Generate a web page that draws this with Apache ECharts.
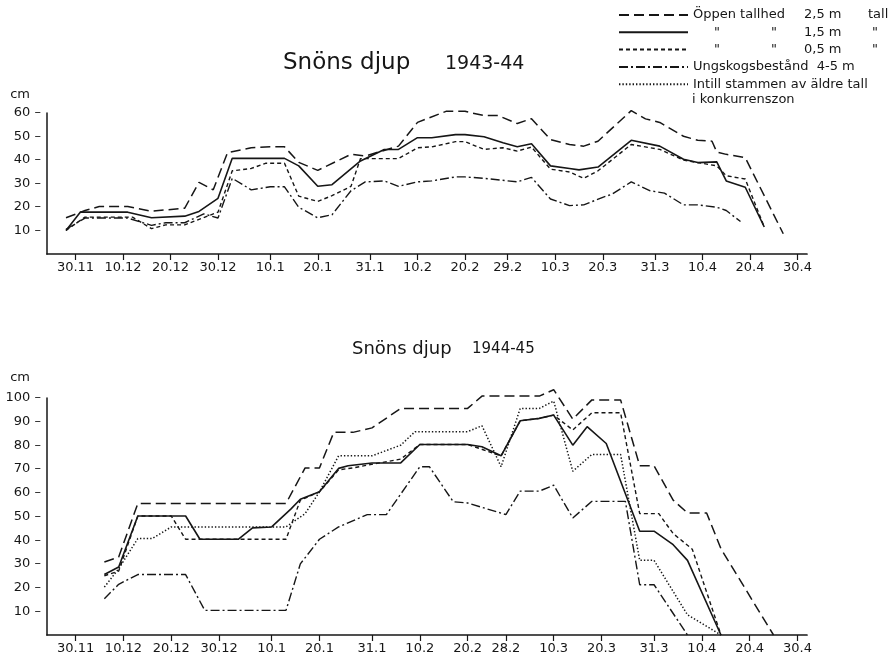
<!DOCTYPE html>
<html><head><meta charset="utf-8">
<script src="https://cdn.jsdelivr.net/npm/echarts@6/dist/echarts.min.js"></script>
<style>html,body{margin:0;padding:0;background:#fff}#c{width:892px;height:662px}</style>
</head><body><div id="c"></div>
<script>
// ---- axis definitions (days counted from 30.11) ----
const topTickDays = [0,10,20,30,41,51,62,72,82,91,101,111,122,132,142,152];
const topTickLabels = ['30.11','10.12','20.12','30.12','10.1','20.1','31.1','10.2','20.2','29.2','10.3','20.3','31.3','10.4','20.4','30.4'];
const botTickDays = [0,10,20,30,41,51,62,72,82,90,100,110,121,131,141,151];
const botTickLabels = ['30.11','10.12','20.12','30.12','10.1','20.1','31.1','10.2','20.2','28.2','10.3','20.3','31.3','10.4','20.4','30.4'];
const topDayRange = [-6, 154];
const botDayRange = [-6, 153];
const yTicksTop = [0, 60, 10];
const yTicksBot = [0, 100, 10];

const seriesNames = ['Öppen tallhed 2,5 m tall','Öppen tallhed 1,5 m tall','Öppen tallhed 0,5 m tall','Ungskogsbestånd 4-5 m','Intill stammen av äldre tall i konkurrenszon'];

// ---- 1943-44 ----
const top25Days = [-2,2,5,11,16,23,26,29,32,37,41,44,47,51,58,61,68,72,78,82,86,89,93,96,100,104,107,110,117,120,123,128,131,134,135,137,141,149];
const top25Vals = [15.4,18.5,20.2,20.2,18.2,19.5,30.5,27.3,43.1,45.2,45.6,45.6,39,35.6,42.4,41.7,45.9,56,60.7,60.7,58.9,58.9,55.5,57.6,48.7,46.6,45.9,48,61,57.5,56,50.1,48.4,48,43.4,42.4,41,8.6];
const top15Days = [-2,1,11,16,23,26,30,33,44,47,51,54,60,65,68,72,75,80,82,86,90,93,96,100,104,106,110,117,123,128,131,135,137,141,145];
const top15Vals = [10,17.8,17.8,15.4,16.1,18.1,23.7,40.7,40.7,37.5,28.8,29.5,39.6,44.5,44.5,49.5,49.5,50.8,50.8,49.9,47.3,45.6,46.9,37.5,36.4,35.8,37,48.4,45.9,40.3,38.9,39.2,31.1,28.4,11.5];
const top05Days = [-2,2,12,16,19,23,30,33,37,40,44,47,51,54,58,60,68,72,75,80,82,86,90,93,96,100,104,107,110,117,123,128,131,135,137,141,145];
const top05Vals = [10,15.7,15.7,10.8,12.4,12.4,17.8,35.4,36.4,38.6,38.6,24.6,22.4,24.8,28.8,40.6,40.6,45.2,45.6,47.8,47.8,44.5,45.2,43.8,45.5,36.1,34.9,32.2,35.4,46.6,44.5,40,38.9,37.5,33.3,31.9,11.5];
const topUngDays = [-2,2,11,16,19,23,27,30,33,37,41,44,47,51,54,58,61,65,68,72,75,80,82,86,93,96,100,104,107,111,113,117,121,124,128,131,135,137,140];
const topUngVals = [10.5,15.3,15.3,12.2,13.3,13.3,17.1,15.3,32.2,27.3,28.6,28.6,19.9,15.4,16.7,26.9,30.7,31.1,28.8,30.7,31.1,32.8,32.8,32.2,30.7,32.6,23.4,20.6,20.9,24.1,25.5,30.7,26.9,25.9,20.9,20.9,19.9,18.5,13.8];

// ---- 1944-45 ----
const bot25Days = [6,9,13,44,48,51,54,58,62,68,82,85,97,100,104,108,114,118,121,125,128,132,135,142,146];
const bot25Vals = [30.8,32.9,55.5,55.5,70.5,70.5,85.5,85.5,87.4,95.6,95.6,100.8,100.8,103.5,91.1,99.2,99.2,71.4,71.4,56.9,51.5,51.5,36.4,13.2,0];
const bot15Days = [6,9,13,23,26,34,37,41,45,47,51,55,57,62,68,72,82,85,89,93,97,100,104,107,111,118,121,125,128,135];
const bot15Vals = [25.5,28.7,50.2,50.2,40.4,40.4,45.2,45.6,53.1,57.3,60.4,70.3,71.4,72.6,72.6,80.4,80.4,79.4,75.6,90.4,91.4,92.8,80.1,87.9,80.8,43.8,43.8,38.1,31.5,0];
const bot05Days = [6,9,13,20,23,44,47,51,55,58,63,68,72,82,89,93,97,100,104,108,114,118,122,125,129,135];
const bot05Vals = [25,27,50.2,50.2,40.4,40.4,56.9,60.4,69.7,70.5,72.4,74.2,80.4,80.4,75.6,90.4,91.4,92.8,86.5,93.8,93.8,51.2,51.2,42.8,36.2,0];
const botUngDays = [6,9,13,23,27,44,47,51,55,61,65,72,74,79,82,90,93,97,100,104,108,115,118,121,128];
const botUngVals = [15.3,21.4,25.5,25.5,10.4,10.4,30,40.4,45.6,50.8,50.8,71,71,56.2,55.7,50.8,60.7,60.7,63.2,49.4,56.4,56.4,21.2,21.2,0];
const botIntDays = [6,9,13,16,20,44,48,51,55,62,68,71,82,85,89,93,97,100,104,108,114,118,121,128,135];
const botIntVals = [20.2,28,40.7,40.7,45.6,45.6,51.2,60.4,75.6,75.6,80.1,85.8,85.8,88.3,71,95.6,95.6,98.7,69.1,76.2,76.2,31.5,31.5,8.5,0];

// ---- build ----
const FONT = 'DejaVu Sans';
const INK = '#161616';
const styles = [
  {width:1.5, type:[10,5]},
  {width:1.6, type:'solid'},
  {width:1.4, type:[4,3]},
  {width:1.4, type:[9,3,2,3]},
  {width:1.5, type:[1.4,2]}
];
function dayCats(r){const a=[];for(let d=r[0];d<=r[1];d++)a.push(String(d));return a;}
function pairs(days, vals, r){return days.map((d,i)=>[d-r[0], vals[i]]);}
function tickFn(tickDays, r){const s=new Set(tickDays.map(d=>d-r[0]));return (idx)=>s.has(idx);}
function labelFn(tickDays, labels){const m={};tickDays.forEach((d,i)=>m[String(d)]=labels[i]);return (v)=>m[v]||'';}

const topCats = dayCats(topDayRange), botCats = dayCats(botDayRange);
const grids = [
  {left:47, right:85, top:113, height:141},
  {left:47, right:85, top:398, height:237}
];
function xAxesFor(gi, cats, tickDays, labels, r){
  return [
    {gridIndex:gi, type:'category', data:cats, boundaryGap:false, offset:5,
     axisLine:{show:false},
     axisTick:{show:true, length:6, interval:tickFn(tickDays,r), lineStyle:{color:INK,width:1.2}},
     axisLabel:{interval:tickFn(tickDays,r), formatter:labelFn(tickDays,labels), margin:2, color:INK, fontFamily:FONT, fontSize:13},
     splitLine:{show:false}},
    {gridIndex:gi, type:'category', data:cats, boundaryGap:false, position:'bottom',
     axisLine:{show:true, lineStyle:{color:INK,width:1.7}}, axisTick:{show:false}, axisLabel:{show:false}, splitLine:{show:false}}
  ];
}
function yAxisFor(gi, t, nameGap){
  return {gridIndex:gi, type:'value', min:t[0], max:t[1], interval:t[2],
    name:'cm', nameLocation:'end', nameGap:nameGap,
    nameTextStyle:{align:'right', padding:[0,17,0,0], color:INK, fontFamily:FONT, fontSize:13},
    axisLine:{show:true, lineStyle:{color:INK,width:1.5}}, axisTick:{show:false},
    axisLabel:{formatter:(v)=>v===0?'':v+' –', margin:6, color:INK, fontFamily:FONT, fontSize:13},
    splitLine:{show:false}};
}
function mk(name, si, xi, yi, days, vals, r){
  return {name:name, type:'line', xAxisIndex:xi, yAxisIndex:yi, symbol:'none', showSymbol:false, clip:false,
    lineStyle:Object.assign({color:INK}, styles[si]), itemStyle:{color:INK},
    data:pairs(days, vals, r)};
}
const series = [
  mk(seriesNames[0],0,0,0,top25Days,top25Vals,topDayRange),
  mk(seriesNames[1],1,0,0,top15Days,top15Vals,topDayRange),
  mk(seriesNames[2],2,0,0,top05Days,top05Vals,topDayRange),
  mk(seriesNames[3],3,0,0,topUngDays,topUngVals,topDayRange),
  mk(seriesNames[0],0,2,1,bot25Days,bot25Vals,botDayRange),
  mk(seriesNames[1],1,2,1,bot15Days,bot15Vals,botDayRange),
  mk(seriesNames[2],2,2,1,bot05Days,bot05Vals,botDayRange),
  mk(seriesNames[3],3,2,1,botUngDays,botUngVals,botDayRange),
  mk(seriesNames[4],4,2,1,botIntDays,botIntVals,botDayRange)
];
const legendText = {};
legendText[seriesNames[0]] = '{a|Öppen tallhed}{c|2,5 m}{d|tall}';
legendText[seriesNames[1]] = '{s|\u00a0}{q1|"}{q2|"}{c2|1,5 m}{d|"}';
legendText[seriesNames[2]] = '{s|\u00a0}{q1|"}{q2|"}{c2|0,5 m}{d|"}';
legendText[seriesNames[3]] = 'Ungskogsbestånd  4-5 m';
legendText[seriesNames[4]] = 'Intill stammen av äldre tall';
const rt = {fontFamily:FONT, fontSize:13, color:INK};

const chart = echarts.init(document.getElementById('c'), null, {renderer:'canvas'});
chart.setOption({
  animation:false,
  backgroundColor:'#fff',
  title:[
    {text:'Snöns djup', left:278, top:47, textStyle:{fontFamily:FONT, fontSize:23, fontWeight:'normal', color:INK}},
    {text:'1943-44', left:440, top:50, textStyle:{fontFamily:FONT, fontSize:19, fontWeight:'normal', color:INK}},
    {text:'Snöns djup', left:347, top:335, textStyle:{fontFamily:FONT, fontSize:18, fontWeight:'normal', color:INK}},
    {text:'1944-45', left:467, top:337, textStyle:{fontFamily:FONT, fontSize:15, fontWeight:'normal', color:INK}}
  ],
  legend:{
    data:seriesNames, orient:'vertical', left:618, top:8, padding:0, itemWidth:69, itemHeight:12, itemGap:3.3,
    selectedMode:false,
    itemStyle:{opacity:0},
    formatter:(n)=>legendText[n],
    textStyle:Object.assign({lineHeight:14, rich:{
      a:Object.assign({width:111}, rt), c:Object.assign({width:64}, rt), c2:Object.assign({width:68}, rt),
      d:Object.assign({}, rt), s:Object.assign({width:21}, rt),
      q1:Object.assign({width:57}, rt), q2:Object.assign({width:33}, rt)}}, rt)
  },
  graphic:[{type:'text', left:692, top:93, style:{text:'i konkurrenszon', font:'13px "DejaVu Sans"', fill:INK}}],
  grid:grids,
  xAxis:[].concat(xAxesFor(0, topCats, topTickDays, topTickLabels, topDayRange),
                  xAxesFor(1, botCats, botTickDays, botTickLabels, botDayRange)),
  yAxis:[yAxisFor(0, yTicksTop, 12), yAxisFor(1, yTicksBot, 14)],
  series:series
});
</script></body></html>
